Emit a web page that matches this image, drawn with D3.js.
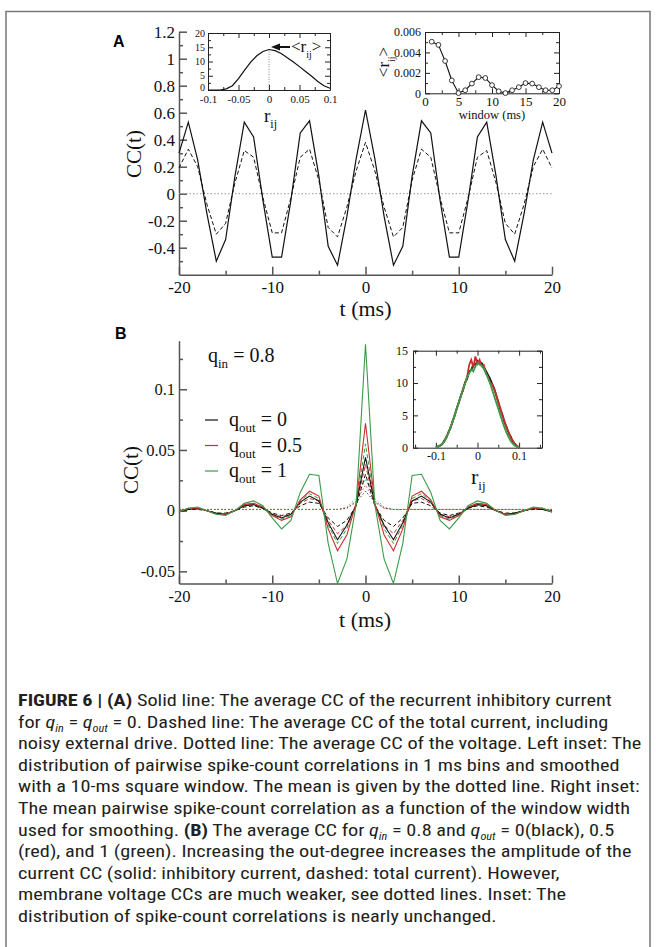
<!DOCTYPE html>
<html><head><meta charset="utf-8">
<script src="https://cdn.jsdelivr.net/npm/d3@7/dist/d3.min.js"></script>
<style>html,body{margin:0;padding:0;background:#fff;}svg{display:block}</style>
</head><body>
<svg id="fig" width="656" height="947"></svg>
<script>
// ================= DATA =================
const timeMs = [-20,-19,-18,-17,-16,-15,-14,-13,-12,-11,-10,-9,-8,-7,-6,-5,-4,-3,-2,-1,0,1,2,3,4,5,6,7,8,9,10,11,12,13,14,15,16,17,18,19,20];

// Panel A
const ccA_inhibitory = [0.30,0.53,0.25,-0.15,-0.50,-0.34,0.13,0.53,0.42,-0.05,-0.47,-0.47,-0.05,0.45,0.54,0.13,-0.39,-0.53,-0.17,0.26,0.62,0.26,-0.17,-0.53,-0.39,0.13,0.54,0.45,-0.05,-0.47,-0.47,-0.05,0.42,0.53,0.13,-0.34,-0.50,-0.15,0.25,0.53,0.30];
const ccA_total = [0.19,0.33,0.20,-0.08,-0.30,-0.22,0.08,0.32,0.27,-0.03,-0.29,-0.29,-0.03,0.27,0.33,0.10,-0.25,-0.32,-0.10,0.17,0.38,0.17,-0.10,-0.32,-0.25,0.10,0.33,0.27,-0.03,-0.29,-0.29,-0.03,0.27,0.32,0.08,-0.22,-0.30,-0.08,0.20,0.33,0.19];
const ccA_voltage = [0,0,0,0,0,0,0,0,0,0,0,0,0,0,0,0,0,0,0,0,0,0,0,0,0,0,0,0,0,0,0,0,0,0,0,0,0,0,0,0,0];
const xTicksMain = [-20,-10,0,10,20];
const xMinorMain = [-15,-5,5,15];
const yTicksA = [-0.4,-0.2,0,0.2,0.4,0.6,0.8,1,1.2];
const yMinorA = [-0.5,-0.3,-0.1,0.1,0.3,0.5,0.7,0.9,1.1];

// Panel A left inset: distribution of r_ij
const rijA = [-0.1,-0.09,-0.08,-0.07,-0.06,-0.05,-0.04,-0.03,-0.02,-0.01,0,0.01,0.02,0.03,0.04,0.05,0.06,0.07,0.08,0.09,0.1];
const densityA = [0,0,0,0.4,1.5,4.0,7.0,9.8,12.0,13.5,14.2,13.8,12.8,11.3,9.8,8.2,6.5,4.8,3.0,1.5,0.6];
const meanRij = 0;
const meanRijHeight = 14.2;
const insetAxTicks = [-0.1,-0.05,0,0.05,0.1];
const insetAxMinor = [-0.075,-0.025,0.025,0.075];
const insetAyTicks = [0,5,10,15,20];
const insetAyMinor = [2.5,7.5,12.5,17.5];

// Panel A right inset: mean correlation vs window
const windowMs = [1,2,3,4,5,6,7,8,9,10,11,12,13,14,15,16,17,18,19,20];
const meanCorr = [0.00505,0.00474,0.00316,0.00126,0.00002,0.00030,0.00095,0.00158,0.00150,0.00080,0.00020,0.00002,0.00030,0.00060,0.00100,0.00095,0.00060,0.00030,0.00030,0.00070];
const winTicks = [0,5,10,15,20];
const winMinor = [2.5,7.5,12.5,17.5];
const corrTicks = [0,0.002,0.004,0.006];
const corrMinor = [0.001,0.003,0.005];

// Panel B (q_in = 0.8)
const qOutLabels = ["0","0.5","1"];
const ccB_inh_q0   = [-0.001,0.001,0.002,0.000,-0.002,-0.003,0.000,0.004,0.005,0.002,-0.003,-0.006,-0.003,0.007,0.012,0.008,-0.010,-0.024,-0.012,0.005,0.044,0.005,-0.012,-0.024,-0.010,0.008,0.012,0.007,-0.003,-0.006,-0.003,0.002,0.005,0.004,0.000,-0.003,-0.002,0.000,0.002,0.001,-0.001];
const ccB_inh_q05  = [-0.001,0.002,0.002,0.000,-0.003,-0.003,0.000,0.005,0.006,0.003,-0.004,-0.008,-0.005,0.009,0.016,0.012,-0.015,-0.033,-0.020,0.006,0.072,0.006,-0.020,-0.033,-0.015,0.012,0.016,0.009,-0.005,-0.008,-0.004,0.003,0.006,0.005,0.000,-0.003,-0.003,0.000,0.002,0.002,-0.001];
const ccB_inh_q1   = [-0.001,0.002,0.003,0.000,-0.003,-0.004,0.000,0.006,0.008,0.004,-0.006,-0.015,-0.008,0.015,0.030,0.029,-0.027,-0.060,-0.040,0.005,0.137,0.005,-0.040,-0.060,-0.027,0.029,0.030,0.015,-0.008,-0.015,-0.006,0.004,0.008,0.006,0.000,-0.004,-0.003,0.000,0.003,0.002,-0.001];
const ccB_tot_q0   = [0.000,0.001,0.001,0.000,-0.002,-0.002,0.000,0.003,0.004,0.002,-0.002,-0.004,-0.002,0.004,0.007,0.006,-0.006,-0.013,-0.008,0.004,0.030,0.004,-0.008,-0.013,-0.006,0.006,0.007,0.004,-0.002,-0.004,-0.002,0.002,0.004,0.003,0.000,-0.002,-0.002,0.000,0.001,0.001,0.000];
const ccB_tot_q05  = [0.000,0.001,0.002,0.000,-0.002,-0.003,0.000,0.004,0.005,0.002,-0.003,-0.005,-0.003,0.006,0.010,0.008,-0.008,-0.019,-0.012,0.004,0.038,0.004,-0.012,-0.019,-0.008,0.008,0.010,0.006,-0.003,-0.005,-0.003,0.002,0.005,0.004,0.000,-0.003,-0.002,0.000,0.002,0.001,0.000];
const ccB_tot_q1   = [-0.001,0.002,0.002,0.000,-0.003,-0.003,0.000,0.005,0.006,0.003,-0.004,-0.007,-0.004,0.008,0.014,0.010,-0.012,-0.027,-0.015,0.005,0.055,0.005,-0.015,-0.027,-0.012,0.010,0.014,0.008,-0.004,-0.007,-0.004,0.003,0.006,0.005,0.000,-0.003,-0.003,0.000,0.002,0.002,-0.001];
const ccB_volt_q0  = [0.001,0.001,0.001,0.001,0.001,0.001,0.001,0.001,0.001,0.001,0.001,0.001,0.001,0.001,0.001,0.001,0.001,0.001,0.002,0.007,0.016,0.007,0.002,0.001,0.001,0.001,0.001,0.001,0.001,0.001,0.001,0.001,0.001,0.001,0.001,0.001,0.001,0.001,0.001,0.001,0.001];
const ccB_volt_q05 = [0.001,0.001,0.001,0.001,0.001,0.001,0.001,0.001,0.001,0.001,0.001,0.001,0.001,0.001,0.001,0.001,0.001,0.001,0.002,0.008,0.021,0.008,0.002,0.001,0.001,0.001,0.001,0.001,0.001,0.001,0.001,0.001,0.001,0.001,0.001,0.001,0.001,0.001,0.001,0.001,0.001];
const ccB_volt_q1  = [0.001,0.001,0.001,0.001,0.001,0.001,0.001,0.001,0.001,0.001,0.001,0.001,0.001,0.001,0.001,0.001,0.001,0.001,0.003,0.010,0.026,0.010,0.003,0.001,0.001,0.001,0.001,0.001,0.001,0.001,0.001,0.001,0.001,0.001,0.001,0.001,0.001,0.001,0.001,0.001,0.001];
const yTicksB = [-0.05,0,0.05,0.1];
const yMinorB = [-0.025,0.025,0.075,0.125];

// Panel B inset: distribution of r_ij for the three q_out
const rijB = [-0.1,-0.095,-0.09,-0.085,-0.08,-0.075,-0.07,-0.065,-0.06,-0.055,-0.05,-0.045,-0.04,-0.035,-0.03,-0.025,-0.02,-0.015,-0.01,-0.005,0,0.005,0.01,0.015,0.02,0.025,0.03,0.035,0.04,0.045,0.05,0.055,0.06,0.065,0.07,0.075,0.08,0.085,0.09,0.095,0.1];
const densB_q0  = [0.05,0.2,0.3,0.5,1.1,1.5,2.4,3.0,4.1,4.9,6.1,6.9,8.1,8.8,10.1,10.6,11.8,12.0,12.9,12.8,13.4,12.9,13.1,12.5,11.9,11.3,10.7,9.9,9.2,8.1,7.1,5.9,5.1,3.9,3.2,2.2,1.7,0.9,0.6,0.2,0.05];
const densB_q05 = [0.05,0.1,0.35,0.6,0.9,1.7,2.2,3.2,3.9,5.1,5.9,7.1,7.9,9.1,9.9,11.0,12.8,13.6,12.4,14.1,13.0,13.6,12.6,12.8,11.5,11.0,10.1,9.8,9.0,8.2,6.9,6.1,4.9,4.1,3.0,2.4,1.5,1.1,0.5,0.3,0.05];
const densB_q1  = [0.05,0.15,0.3,0.6,1.0,1.6,2.3,3.1,4.0,5.0,6.0,7.0,8.0,9.0,9.9,10.9,11.5,12.1,11.8,12.6,13.1,12.9,12.7,12.2,11.6,10.8,10.0,9.0,8.0,7.0,6.0,5.0,4.0,3.1,2.3,1.6,1.0,0.6,0.3,0.15,0.05];
const insetBxTicks = [-0.1,0,0.1];
const insetBxMinor = [-0.15,-0.05,0.05,0.15];
const insetByTicks = [0,5,10,15];
const insetByMinor = [2.5,7.5,12.5];

// ================= DRAWING =================
const serif = "'Liberation Serif','Times New Roman',Times,serif";
const sansB = "'Liberation Sans',Arial,Helvetica,sans-serif";
const RED = "#c9302c", GREEN = "#3a9a46";
const svg = d3.select("#fig");
const fmt = d => String(Math.round(d * 100000) / 100000);

// outer frame
svg.append("path").attr("d", "M6,960 V11.5 H650 V960").attr("fill", "none").attr("stroke", "#777").attr("stroke-width", 1.5);

function drawAxes(g, x, y, o) {
  const yb = y.range()[0], yt = y.range()[1], xl = x.range()[0], xr = x.range()[1];
  const ax = g.append("g").attr("class", "axes");
  const bx = ax.append("g").attr("transform", `translate(0,${yb})`)
    .call(d3.axisBottom(x).tickValues(o.xMajor).tickSizeInner(-o.M).tickSizeOuter(0).tickPadding(o.padX).tickFormat(fmt));
  ax.append("g").attr("transform", `translate(0,${yb})`)
    .call(d3.axisBottom(x).tickValues(o.xMinor).tickSizeInner(-o.m).tickSizeOuter(0).tickFormat(""))
    .select(".domain").remove();
  const ly = ax.append("g").attr("transform", `translate(${xl},0)`)
    .call(d3.axisLeft(y).tickValues(o.yMajor).tickSizeInner(-o.M).tickSizeOuter(0).tickPadding(o.padY).tickFormat(fmt));
  ax.append("g").attr("transform", `translate(${xl},0)`)
    .call(d3.axisLeft(y).tickValues(o.yMinor).tickSizeInner(-o.m).tickSizeOuter(0).tickFormat(""))
    .select(".domain").remove();
  if (o.box) {
    ax.append("g").attr("transform", `translate(0,${yt})`)
      .call(d3.axisTop(x).tickValues(o.xMajor).tickSizeInner(-o.M).tickSizeOuter(0).tickFormat(""));
    ax.append("g").attr("transform", `translate(0,${yt})`)
      .call(d3.axisTop(x).tickValues(o.xMinor).tickSizeInner(-o.m).tickSizeOuter(0).tickFormat(""))
      .select(".domain").remove();
    ax.append("g").attr("transform", `translate(${xr},0)`)
      .call(d3.axisRight(y).tickValues(o.yMajor).tickSizeInner(-o.M).tickSizeOuter(0).tickFormat(""));
    ax.append("g").attr("transform", `translate(${xr},0)`)
      .call(d3.axisRight(y).tickValues(o.yMinor).tickSizeInner(-o.m).tickSizeOuter(0).tickFormat(""))
      .select(".domain").remove();
  }
  ax.selectAll(".domain").attr("stroke", o.stroke).attr("stroke-width", o.sw);
  ax.selectAll(".tick line").attr("stroke", o.stroke).attr("stroke-width", o.sw);
  ax.selectAll(".tick text").attr("font-family", serif).attr("font-size", o.fs).attr("fill", "#111");
  if (o.fsX) bx.selectAll(".tick text").attr("font-size", o.fsX);
  if (o.fsY) ly.selectAll(".tick text").attr("font-size", o.fsY);
  if (o.zeroDy) ly.selectAll(".tick text").filter(d => d === 0).attr("dy", o.zeroDy);
  return ax;
}

function richText(g, x, y, parts, fs, opts = {}) {
  const t = g.append("text").attr("x", x).attr("y", y).attr("font-family", opts.family || serif)
    .attr("font-size", fs).attr("fill", opts.fill || "#111");
  if (opts.anchor) t.attr("text-anchor", opts.anchor);
  if (opts.transform) t.attr("transform", opts.transform);
  let shift = 0;
  parts.forEach(p => {
    const s = t.append("tspan").text(p.t);
    if (p.sub) { s.attr("font-size", p.fs || fs * 0.62).attr("dy", (p.dy || fs * 0.3) - shift); shift = p.dy || fs * 0.3; }
    else if (shift) { s.attr("dy", -shift); shift = 0; }
    if (p.italic) s.attr("font-style", "italic");
    if (p.bold) s.attr("font-weight", "bold");
  });
  return t;
}

// ---------- Panel A ----------
const gA = svg.append("g");
const xA = d3.scaleLinear().domain([-20, 20]).range([179, 552]);
const yA = d3.scaleLinear().domain([-0.6, 1.2]).range([274.7, 31.7]);
drawAxes(gA, xA, yA, { xMajor: xTicksMain, xMinor: xMinorMain, yMajor: yTicksA, yMinor: yMinorA,
  M: 8, m: 4, padX: 6, padY: 4, fs: 17, stroke: "#555", sw: 1.5 });

const lineA = d3.line().x((d, i) => xA(timeMs[i])).y(d => yA(d));
gA.append("path").attr("d", lineA(ccA_voltage)).attr("fill", "none").attr("stroke", "#999").attr("stroke-width", 1).attr("stroke-dasharray", "1.5,2");
gA.append("path").attr("d", lineA(ccA_total)).attr("fill", "none").attr("stroke", "#111").attr("stroke-width", 1).attr("stroke-dasharray", "4,2.5");
gA.append("path").attr("d", lineA(ccA_inhibitory)).attr("fill", "none").attr("stroke", "#111").attr("stroke-width", 1.2);

gA.append("text").attr("x", 113).attr("y", 47).attr("font-family", sansB).attr("font-weight", "bold").attr("font-size", 16).text("A");
richText(gA, 365.5, 316, [{ t: "t (ms)" }], 22, { anchor: "middle" });
richText(gA, 0, 0, [{ t: "CC(t)" }], 21, { anchor: "middle", transform: "translate(141,154) rotate(-90)" });

// left inset
const gAL = gA.append("g");
const xAL = d3.scaleLinear().domain([-0.1, 0.1]).range([208, 330]);
const yAL = d3.scaleLinear().domain([0, 20]).range([90, 33]);
gAL.append("rect").attr("x", 208).attr("y", 33).attr("width", 122).attr("height", 57).attr("fill", "#fff");
drawAxes(gAL, xAL, yAL, { xMajor: insetAxTicks, xMinor: insetAxMinor, yMajor: insetAyTicks, yMinor: insetAyMinor,
  M: 5, m: 3, padX: 5.5, padY: 3, fs: 11, fsY: 10, stroke: "#222", sw: 1, box: true, zeroDy: "0.05em" });
gAL.append("line").attr("x1", xAL(meanRij)).attr("x2", xAL(meanRij)).attr("y1", yAL(0)).attr("y2", yAL(meanRijHeight))
  .attr("stroke", "#888").attr("stroke-width", 1).attr("stroke-dasharray", "1,1.5");
gAL.append("path").attr("d", d3.line().x((d, i) => xAL(rijA[i])).y(d => yAL(d))(densityA))
  .attr("fill", "none").attr("stroke", "#111").attr("stroke-width", 1.2);
// arrow to mean
gAL.append("line").attr("x1", 290).attr("x2", xAL(meanRij) + 9).attr("y1", 47).attr("y2", 47).attr("stroke", "#111").attr("stroke-width", 2);
gAL.append("path").attr("d", `M${xAL(meanRij) + 2},47 l9,-3.5 v7 z`).attr("fill", "#111");
richText(gAL, 291, 52, [{ t: "<r" }, { t: "ij", sub: true, fs: 10, dy: 6 }, { t: ">" }], 17);
richText(gAL, 264, 122, [{ t: "r" }, { t: "ij", sub: true, fs: 12, dy: 6 }], 19);

// right inset
const gAR = gA.append("g");
const xAR = d3.scaleLinear().domain([0, 20]).range([425, 559]);
const yAR = d3.scaleLinear().domain([0, 0.006]).range([93.3, 32]);
gAR.append("rect").attr("x", 425).attr("y", 32).attr("width", 134).attr("height", 61.3).attr("fill", "#fff");
drawAxes(gAR, xAR, yAR, { xMajor: winTicks, xMinor: winMinor, yMajor: corrTicks, yMinor: corrMinor,
  M: 5, m: 3, padX: 3, padY: 4, fs: 12, fsX: 13, stroke: "#222", sw: 1, box: true });
gAR.append("path").attr("d", d3.line().x((d, i) => xAR(windowMs[i])).y(d => yAR(d))(meanCorr))
  .attr("fill", "none").attr("stroke", "#111").attr("stroke-width", 1.1);
gAR.selectAll("circle.pt").data(meanCorr).join("circle").attr("class", "pt")
  .attr("cx", (d, i) => xAR(windowMs[i])).attr("cy", d => yAR(d)).attr("r", 2.4)
  .attr("fill", "#fff").attr("stroke", "#222").attr("stroke-width", 0.9);
richText(gAR, 492, 119, [{ t: "window (ms)" }], 12.5, { anchor: "middle" });
richText(gAR, 0, 0, [{ t: "<r" }, { t: "ij", sub: true, fs: 10, dy: 6 }, { t: ">" }], 17, { anchor: "middle", transform: "translate(389,62) rotate(-90)" });

// ---------- Panel B ----------
const gB = svg.append("g");
const xB = d3.scaleLinear().domain([-20, 20]).range([179, 552]);
const yB = d3.scaleLinear().domain([-0.06, 0.14]).range([583.5, 340.7]);
drawAxes(gB, xB, yB, { xMajor: xTicksMain, xMinor: xMinorMain, yMajor: yTicksB, yMinor: yMinorB,
  M: 8, m: 4, padX: 7, padY: 4, fs: 16.5, stroke: "#555", sw: 1.5 });
const lineB = d3.line().x((d, i) => xB(timeMs[i])).y(d => yB(d));
const colorsB = ["#111", RED, GREEN];
[ccB_volt_q0, ccB_volt_q05, ccB_volt_q1].forEach((s, k) =>
  gB.append("path").attr("d", lineB(s)).attr("fill", "none").attr("stroke", colorsB[k]).attr("stroke-width", 1).attr("stroke-dasharray", "1.5,2").attr("opacity", 0.8));
[ccB_tot_q0, ccB_tot_q05, ccB_tot_q1].forEach((s, k) =>
  gB.append("path").attr("d", lineB(s)).attr("fill", "none").attr("stroke", colorsB[k]).attr("stroke-width", 1).attr("stroke-dasharray", "4,2.5"));
[ccB_inh_q0, ccB_inh_q05, ccB_inh_q1].forEach((s, k) =>
  gB.append("path").attr("d", lineB(s)).attr("fill", "none").attr("stroke", colorsB[k]).attr("stroke-width", 1.1));

gB.append("text").attr("x", 115).attr("y", 339).attr("font-family", sansB).attr("font-weight", "bold").attr("font-size", 16).text("B");
richText(gB, 365, 627, [{ t: "t  (ms)" }], 22, { anchor: "middle" });
richText(gB, 0, 0, [{ t: "CC(t)" }], 21, { anchor: "middle", transform: "translate(138,470) rotate(-90)" });
richText(gB, 208, 362, [{ t: "q" }, { t: "in", sub: true, fs: 13, dy: 6 }, { t: " = 0.8" }], 20);
qOutLabels.forEach((lab, k) => {
  const yy = 426 + k * 25.5;
  gB.append("line").attr("x1", 205).attr("x2", 218).attr("y1", yy - 6).attr("y2", yy - 6).attr("stroke", colorsB[k]).attr("stroke-width", 1.2);
  richText(gB, 229, yy, [{ t: "q" }, { t: "out", sub: true, fs: 13, dy: 6 }, { t: " = " + lab }], 20);
});

// B inset
const gBI = gB.append("g");
const xBI = d3.scaleLinear().domain([-0.155, 0.155]).range([413, 542]);
const yBI = d3.scaleLinear().domain([0, 15]).range([447.7, 350.7]);
gBI.append("rect").attr("x", 413).attr("y", 350.7).attr("width", 129).attr("height", 97).attr("fill", "#fff");
drawAxes(gBI, xBI, yBI, { xMajor: insetBxTicks, xMinor: insetBxMinor, yMajor: insetByTicks, yMinor: insetByMinor,
  M: 5, m: 3, padX: 4, padY: 5, fs: 12, stroke: "#222", sw: 1, box: true });
const lineBI = d3.line().x((d, i) => xBI(rijB[i])).y(d => yBI(d));
[densB_q0, densB_q05, densB_q1].forEach((s, k) =>
  gBI.append("path").attr("d", lineBI(s)).attr("fill", "none").attr("stroke", colorsB[k]).attr("stroke-width", 1.8));
richText(gBI, 471, 484, [{ t: "r" }, { t: "ij", sub: true, fs: 13, dy: 6 }], 22);

// ---------- Caption ----------
const captionLines = [
  [{ t: "FIGURE 6 | (A)", bold: true }, { t: " Solid line: The average CC of the recurrent inhibitory current" }],
  [{ t: "for " }, { t: "q", italic: true }, { t: "in", italic: true, sub: true, fs: 10, dy: 4 }, { t: " = " }, { t: "q", italic: true }, { t: "out", italic: true, sub: true, fs: 10, dy: 4 }, { t: " = 0. Dashed line: The average CC of the total current, including" }],
  [{ t: "noisy external drive. Dotted line: The average CC of the voltage. Left inset: The" }],
  [{ t: "distribution of pairwise spike-count correlations in 1 ms bins and smoothed" }],
  [{ t: "with a 10-ms square window. The mean is given by the dotted line. Right inset:" }],
  [{ t: "The mean pairwise spike-count correlation as a function of the window width" }],
  [{ t: "used for smoothing. " }, { t: "(B)", bold: true }, { t: " The average CC for " }, { t: "q", italic: true }, { t: "in", italic: true, sub: true, fs: 10, dy: 4 }, { t: " = 0.8 and " }, { t: "q", italic: true }, { t: "out", italic: true, sub: true, fs: 10, dy: 4 }, { t: " = 0(black), 0.5" }],
  [{ t: "(red), and 1 (green). Increasing the out-degree increases the amplitude of the" }],
  [{ t: "current CC (solid: inhibitory current, dashed: total current). However," }],
  [{ t: "membrane voltage CCs are much weaker, see dotted lines. Inset: The" }],
  [{ t: "distribution of spike-count correlations is nearly unchanged." }]
];
const capFamily = "'Liberation Sans Narrow','Arial Narrow','Roboto Condensed','Liberation Sans',Arial,sans-serif";
const gCap = svg.append("g");
const capTexts = captionLines.map((parts, i) =>
  richText(gCap, 0, 706 + i * 21.6, parts, 16.5, { family: capFamily, fill: "#231f20" }));
const refW = capTexts[4].node().getComputedTextLength();
const sx = 622 / refW;
gCap.attr("transform", `translate(18,0) scale(${sx},1)`);
</script>
</body></html>
